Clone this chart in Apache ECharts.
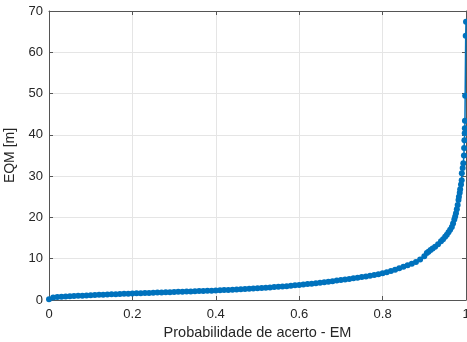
<!DOCTYPE html>
<html>
<head>
<meta charset="utf-8">
<script src="https://cdn.jsdelivr.net/npm/echarts@6/dist/echarts.min.js"></script>
<style>
html,body{margin:0;padding:0;background:#fff;}
#c{width:467px;height:342px;}
</style>
</head>
<body>
<div id="c"></div>
<script>
// Probability of correct (x) and EQM [m] (y)
var probs = [0.00,0.01,0.02,0.03,0.04,0.05,0.06,0.07,0.08,0.09,
  0.10,0.11,0.12,0.13,0.14,0.15,0.16,0.17,0.18,0.19,
  0.20,0.21,0.22,0.23,0.24,0.25,0.26,0.27,0.28,0.29,
  0.30,0.31,0.32,0.33,0.34,0.35,0.36,0.37,0.38,0.39,
  0.40,0.41,0.42,0.43,0.44,0.45,0.46,0.47,0.48,0.49,
  0.50,0.51,0.52,0.53,0.54,0.55,0.56,0.57,0.58,0.59,
  0.60,0.61,0.62,0.63,0.64,0.65,0.66,0.67,0.68,0.69,
  0.70,0.71,0.72,0.73,0.74,0.75,0.76,0.77,0.78,0.79,
  0.80,0.81,0.82,0.83,0.84,0.85,0.86,0.87,0.88,0.89,
  0.90,0.906,0.91,0.915,0.92,0.926,0.933,0.94,0.945,0.95,
  0.954,0.958,0.962,0.966,0.969,0.972,0.974,0.976,0.978,0.98,
  0.982,0.983,0.985,0.986,0.988,0.9897,0.990,0.992,0.9935,0.995,
  0.9955,0.9962,0.9969,0.9972,0.9975,0.998,0.9993,1.0];
var eqm = [0.2,0.6,0.7,0.8,0.85,0.9,0.95,1.0,1.05,1.1,
  1.15,1.2,1.25,1.3,1.35,1.38,1.42,1.46,1.5,1.54,
  1.58,1.62,1.65,1.69,1.72,1.76,1.8,1.83,1.87,1.9,
  1.94,1.97,2.0,2.04,2.07,2.11,2.15,2.18,2.22,2.26,
  2.3,2.35,2.4,2.45,2.5,2.55,2.6,2.66,2.72,2.78,
  2.85,2.91,2.98,3.05,3.12,3.2,3.28,3.36,3.45,3.55,
  3.65,3.75,3.85,3.95,4.05,4.17,4.3,4.42,4.55,4.7,
  4.85,4.97,5.1,5.25,5.4,5.55,5.7,5.87,6.05,6.25,
  6.5,6.75,7.0,7.35,7.7,8.05,8.4,8.8,9.2,9.8,
  10.6,11.4,11.7,12.1,12.5,12.9,13.5,14.2,14.7,15.3,
  15.8,16.4,17.0,17.7,18.5,19.5,20.2,21,22,23,
  24.2,25,26,26.8,28,29,30.7,32,33.1,35,
  36.8,38.7,40.4,41.6,43.4,49.5,64,67.4];
var xTicks = ['0','0.2','0.4','0.6','0.8','1'];
var yTicks = ['0','10','20','30','40','50','60','70'];

var data = probs.map(function(p,i){return [p, eqm[i]];});
var font = 'Liberation Sans, Arial, Helvetica, sans-serif';
var axisCol = '#555';
var chart = echarts.init(document.getElementById('c'), null, {renderer:'canvas'});
chart.setOption({
  animation:false,
  backgroundColor:'#fff',
  grid:{left:49,right:1,top:11,bottom:42,containLabel:false,outerBoundsMode:'none'},
  xAxis:[{
    type:'value',min:0,max:1,interval:0.2,position:'bottom',
    name:'Probabilidade de acerto - EM',nameLocation:'middle',nameGap:20,
    nameTextStyle:{fontFamily:font,fontSize:14.5,color:'#262626',verticalAlign:'top'},
    axisLine:{show:true,lineStyle:{color:axisCol,width:1}},
    axisTick:{show:true,inside:true,length:4,lineStyle:{color:axisCol}},
    axisLabel:{fontFamily:font,fontSize:13,color:'#262626',margin:8,
      formatter:function(v){return xTicks[Math.round(v/0.2)];}},
    splitLine:{show:true,lineStyle:{color:'#e5e5e5',width:1}}
  },{
    type:'value',min:0,max:1,interval:0.2,position:'top',
    axisLine:{show:true,onZero:false,lineStyle:{color:axisCol,width:1}},
    axisTick:{show:true,inside:true,length:4,lineStyle:{color:axisCol}},
    axisLabel:{show:false},splitLine:{show:false}
  }],
  yAxis:[{
    type:'value',min:0,max:70,interval:10,position:'left',
    name:'EQM [m]',nameLocation:'middle',nameGap:25,nameRotate:90,
    nameTextStyle:{fontFamily:font,fontSize:14,color:'#262626'},
    axisLine:{show:true,lineStyle:{color:axisCol,width:1}},
    axisTick:{show:true,inside:true,length:4,lineStyle:{color:axisCol}},
    axisLabel:{fontFamily:font,fontSize:13,color:'#262626',margin:6,
      formatter:function(v){return yTicks[Math.round(v/10)];}},
    splitLine:{show:true,lineStyle:{color:'#e5e5e5',width:1}}
  },{
    type:'value',min:0,max:70,interval:10,position:'right',
    axisLine:{show:true,onZero:false,lineStyle:{color:axisCol,width:1}},
    axisTick:{show:true,inside:true,length:4,lineStyle:{color:axisCol}},
    axisLabel:{show:false},splitLine:{show:false}
  }],
  series:[{
    type:'line',data:data,xAxisIndex:0,yAxisIndex:0,
    symbol:'circle',symbolSize:6,showSymbol:true,
    itemStyle:{color:'#0072BD'},
    lineStyle:{color:'#0072BD',width:1.5},
    clip:false
  }]
});
</script>
</body>
</html>
